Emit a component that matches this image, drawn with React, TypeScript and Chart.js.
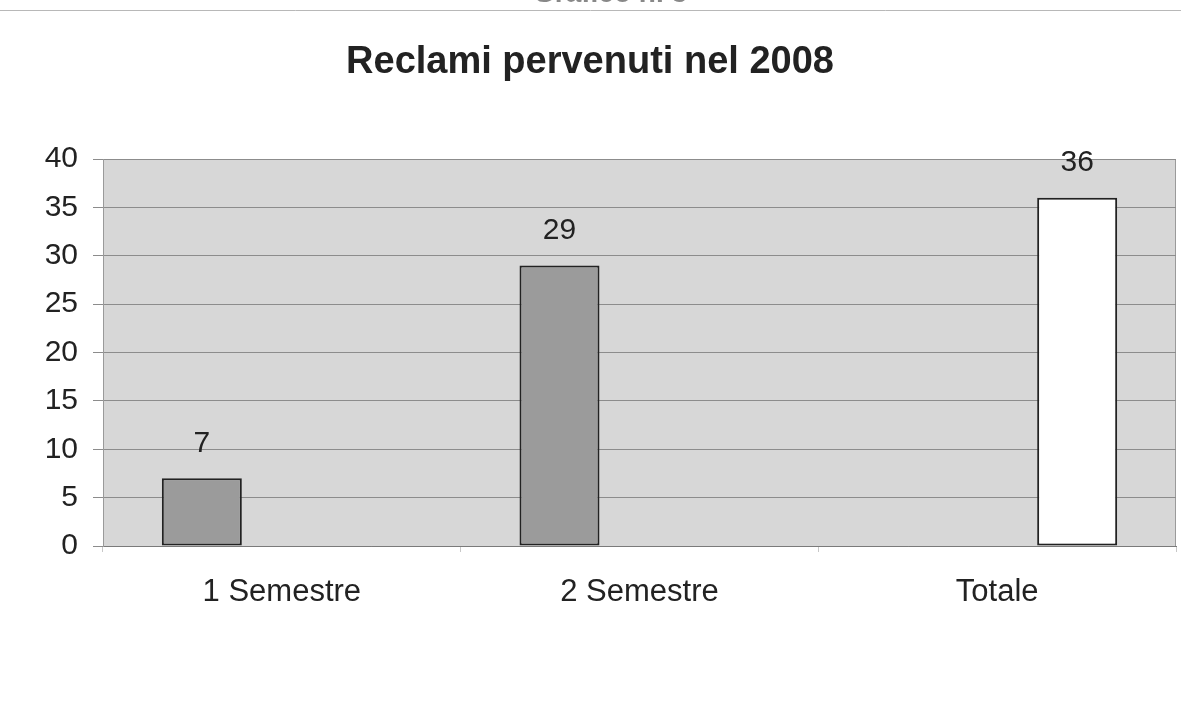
import React, { useEffect, useRef } from "react";
import { Chart, registerables } from "chart.js";

Chart.register(...registerables);

const categories = ["1 Semestre", "2 Semestre", "Totale"];
const semestriValues = [7, 29, null];
const spacerValues = [null, null, null];
const totaleValues = [null, null, 36];
const yTicks = [0, 5, 10, 15, 20, 25, 30, 35, 40];
const titleText = "Reclami pervenuti nel 2008";
const headerText = "Grafico n. 3";

const FONT = "'Liberation Sans', Arial, sans-serif";

const decorPlugin = {
  id: "decor",
  beforeDraw(chart: any) {
    const { ctx, chartArea } = chart;
    ctx.save();
    ctx.fillStyle = "#ffffff";
    ctx.fillRect(0, 0, chart.width, chart.height);
    ctx.fillStyle = "#d7d7d7";
    ctx.fillRect(chartArea.left, chartArea.top, chartArea.right - chartArea.left, chartArea.bottom - chartArea.top);
    ctx.strokeStyle = "#9a9a9a";
    ctx.lineWidth = 1;
    ctx.strokeRect(chartArea.left + 0.5, chartArea.top + 0.5, chartArea.right - chartArea.left - 1, chartArea.bottom - chartArea.top);
    // header line and cut-off header text
    ctx.strokeStyle = "#b8b8b8";
    ctx.beginPath();
    ctx.moveTo(0, 10.5);
    ctx.lineTo(chart.width, 10.5);
    ctx.stroke();
    ctx.fillStyle = "#888";
    ctx.font = `bold 28px ${FONT}`;
    ctx.textAlign = "center";
    ctx.textBaseline = "alphabetic";
    ctx.fillText(headerText, 610, 2);
    // title
    ctx.fillStyle = "#222";
    ctx.font = `bold 38px ${FONT}`;
    ctx.textBaseline = "alphabetic";
    ctx.fillText(titleText, 590, 73);
    ctx.restore();
  },
  afterDatasetsDraw(chart: any) {
    const { ctx } = chart;
    ctx.save();
    ctx.fillStyle = "#222";
    ctx.font = `30px ${FONT}`;
    ctx.textAlign = "center";
    ctx.textBaseline = "middle";
    chart.data.datasets.forEach((ds: any, di: number) => {
      const meta = chart.getDatasetMeta(di);
      meta.data.forEach((bar: any, i: number) => {
        const v = ds.data[i];
        if (v === null || v === undefined) return;
        ctx.fillText(String(v), bar.x, bar.y - 35);
      });
    });
    ctx.restore();
  },
};

export default function App() {
  const ref = useRef<HTMLCanvasElement | null>(null);
  useEffect(() => {
    if (!ref.current) return;
    const chart = new Chart(ref.current, {
      type: "bar",
      data: {
        labels: categories,
        datasets: [
          {
            data: semestriValues as any,
            backgroundColor: "#9b9b9b",
            borderColor: "#222",
            borderWidth: 2,
            borderSkipped: false,
          },
          {
            data: spacerValues as any,
            backgroundColor: "#9b9b9b",
            borderColor: "#222",
            borderWidth: 2,
          },
          {
            data: totaleValues as any,
            backgroundColor: "#ffffff",
            borderColor: "#222",
            borderWidth: 2,
            borderSkipped: false,
          },
        ],
      },
      options: {
        animation: false,
        responsive: false,
        maintainAspectRatio: false,
        layout: { padding: { top: 159, left: 0, right: 5, bottom: 0 } },
        plugins: {
          legend: { display: false },
          tooltip: { enabled: false },
          title: { display: false },
        },
        datasets: {
          bar: { barPercentage: 1, categoryPercentage: 0.671, grouped: true },
        } as any,
        scales: {
          x: {
            grid: {
              drawOnChartArea: false,
              drawTicks: true,
              tickLength: 6,
              color: "#c8c8c8",
              offset: true,
            },
            border: { display: true, color: "#7a7a7a", width: 1 },
            ticks: {
              color: "#222",
              font: { family: FONT, size: 31 },
              padding: 22,
              maxRotation: 0,
            },
            afterFit(scale: any) {
              scale.height = 709 - 546;
            },
          },
          y: {
            min: 0,
            max: 40,
            afterBuildTicks(scale: any) {
              scale.ticks = yTicks.map((v) => ({ value: v }));
            },
            grid: {
              color: "#8c8c8c",
              lineWidth: 1,
              drawTicks: true,
              tickLength: 10,
            },
            border: { display: true, color: "#9a9a9a" },
            ticks: {
              color: "#222",
              font: { family: FONT, size: 30 },
              padding: 15,
              stepSize: 5,
            },
            afterFit(scale: any) {
              scale.width = 103;
            },
          },
        },
      },
      plugins: [decorPlugin],
    });
    return () => chart.destroy();
  }, []);
  return (
    <div style={{ position: "fixed", left: 0, top: 0, width: 1181, height: 709, background: "#fff" }}>
      <canvas ref={ref} width={1181} height={709} style={{ display: "block" }} />
    </div>
  );
}
